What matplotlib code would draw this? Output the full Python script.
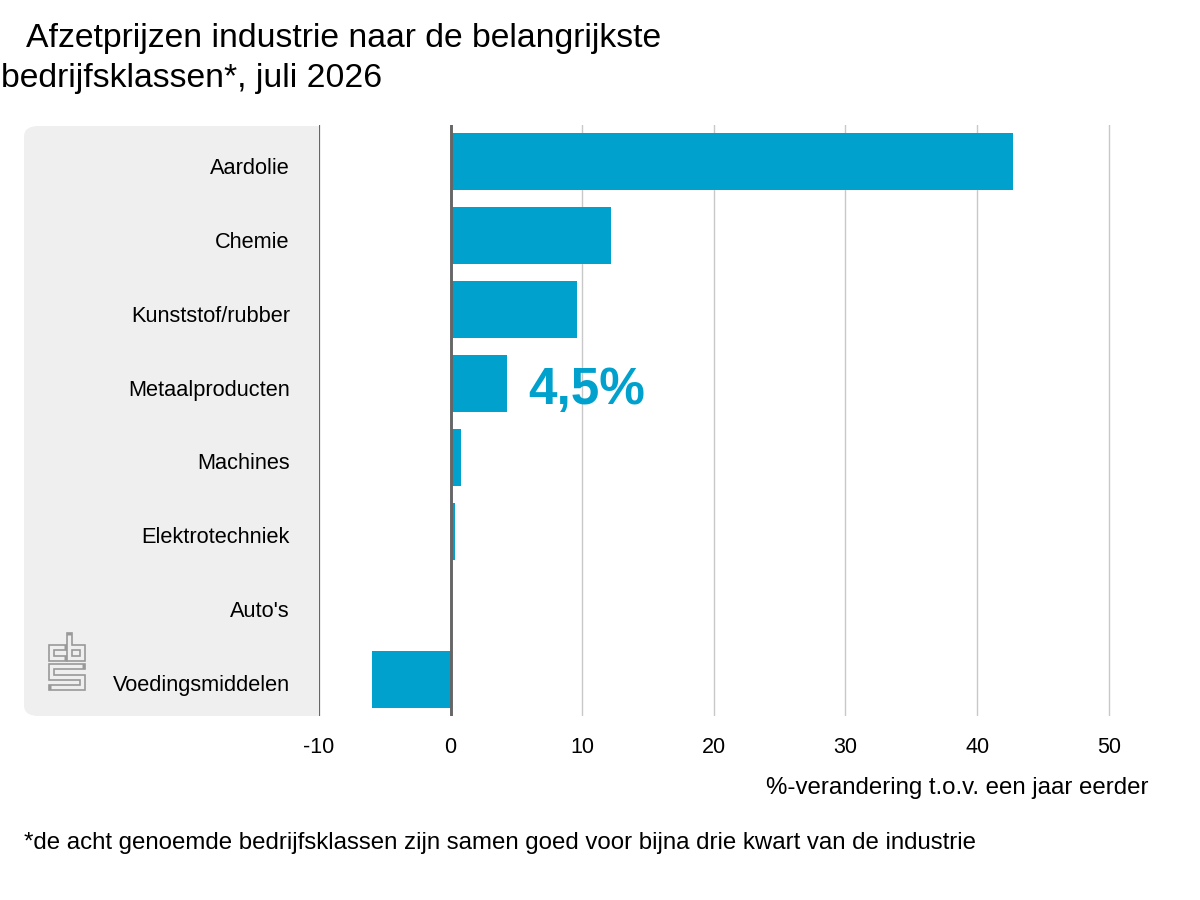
import matplotlib
matplotlib.use('Agg')
import matplotlib.pyplot as plt
from matplotlib.patches import FancyBboxPatch
from matplotlib.transforms import ScaledTranslation

plt.rcParams['font.family'] = ['Liberation Sans', 'DejaVu Sans']

# data (% change vs a year earlier)
categories = ['Aardolie', 'Chemie', 'Kunststof/rubber', 'Metaalproducten',
              'Machines', 'Elektrotechniek', "Auto's", 'Voedingsmiddelen']
values = [42.7, 12.2, 9.6, 4.3, 0.8, 0.3, 0.0, -6.0]
xticks = [-10, 0, 10, 20, 30, 40, 50]
highlight = '4,5%'

blue = '#00a1cd'
panel = '#efefef'

W, H = 1200, 900
fig = plt.figure(figsize=(12, 9), dpi=100)

def fx(px):
    return px / W

def fy(py):
    return 1 - py / H

# grey panel behind the category labels (right part hidden under the axes)
fig.patches.append(FancyBboxPatch((fx(24), fy(716)), fx(340) - fx(24), fy(126) - fy(716),
                                  boxstyle='round,pad=0,rounding_size=0.012',
                                  transform=fig.transFigure, facecolor=panel,
                                  edgecolor='none', zorder=-1))

ax = fig.add_axes([fx(319), fy(716), fx(1135) - fx(319), fy(125) - fy(716)])
ax.set_facecolor('white')
ax.set_zorder(1)

y = list(range(len(categories)))
ax.barh(y, values, height=0.77, color=blue, zorder=2)
ax.set_ylim(len(categories) - 0.5, -0.5)
ax.set_xlim(-10, 52)

for t in xticks[2:]:
    ax.axvline(t, color='#c8c8c8', lw=1.0, zorder=1)
ax.axvline(-10, color='#666666', lw=1.6, zorder=3)
ax.axvline(0, color='#666666', lw=2.1, zorder=3)

for s in ax.spines.values():
    s.set_visible(False)

ax.set_yticks(y)
ax.set_yticklabels(categories, fontsize=15.7)
ax.set_xticks(xticks)
ax.set_xticklabels([str(t) for t in xticks], fontsize=15.5)
ax.tick_params(axis='y', length=0, pad=21)
ax.tick_params(axis='x', length=0, pad=15)
# nudge the category labels down a little
shift = ScaledTranslation(0, -4 / 100, fig.dpi_scale_trans)
for lab in ax.get_yticklabels():
    lab.set_transform(lab.get_transform() + shift)

ax.text(5.9, 3.1, highlight, color=blue, fontsize=37, fontweight='bold',
        ha='left', va='center', zorder=4)

# titles and notes
fig.text(fx(26), fy(47), 'Afzetprijzen industrie naar de belangrijkste',
         fontsize=24.3, ha='left', va='baseline')
fig.text(fx(1), fy(87), 'bedrijfsklassen*, juli 2026',
         fontsize=24.3, ha='left', va='baseline')
fig.text(fx(1148), fy(788), '%-verandering t.o.v. een jaar eerder',
         fontsize=17.3, ha='right', va='center')
fig.text(fx(24), fy(843),
         '*de acht genoemde bedrijfsklassen zijn samen goed voor bijna drie kwart van de industrie',
         fontsize=17.3, ha='left', va='center')

# cbs logo, outline strokes
lg = fig.add_axes([fx(44), fy(694), fx(88) - fx(44), fy(630) - fy(694)])
lg.set_zorder(2)
lg.set_xlim(0, 44)
lg.set_ylim(64, 0)
lg.axis('off')
paths = [
    [(20, 17), (7, 17), (7, 28.3), (20, 28.3)],
    [(25, 5), (25, 28.3), (37.7, 28.3), (37.7, 17), (25, 17)],
    [(37.7, 36.3), (7, 36.3), (7, 46.7), (37.7, 46.7), (37.7, 57), (7, 57)],
]
for p in paths:
    xs = [a for a, b in p]
    ys = [b for a, b in p]
    lg.plot(xs, ys, color='#999999', lw=4.8, solid_joinstyle='miter',
            solid_capstyle='projecting', clip_on=False)
    lg.plot(xs, ys, color=panel, lw=2.4, solid_joinstyle='miter',
            solid_capstyle='butt', clip_on=False)

fig.savefig('out.png', dpi=100)
